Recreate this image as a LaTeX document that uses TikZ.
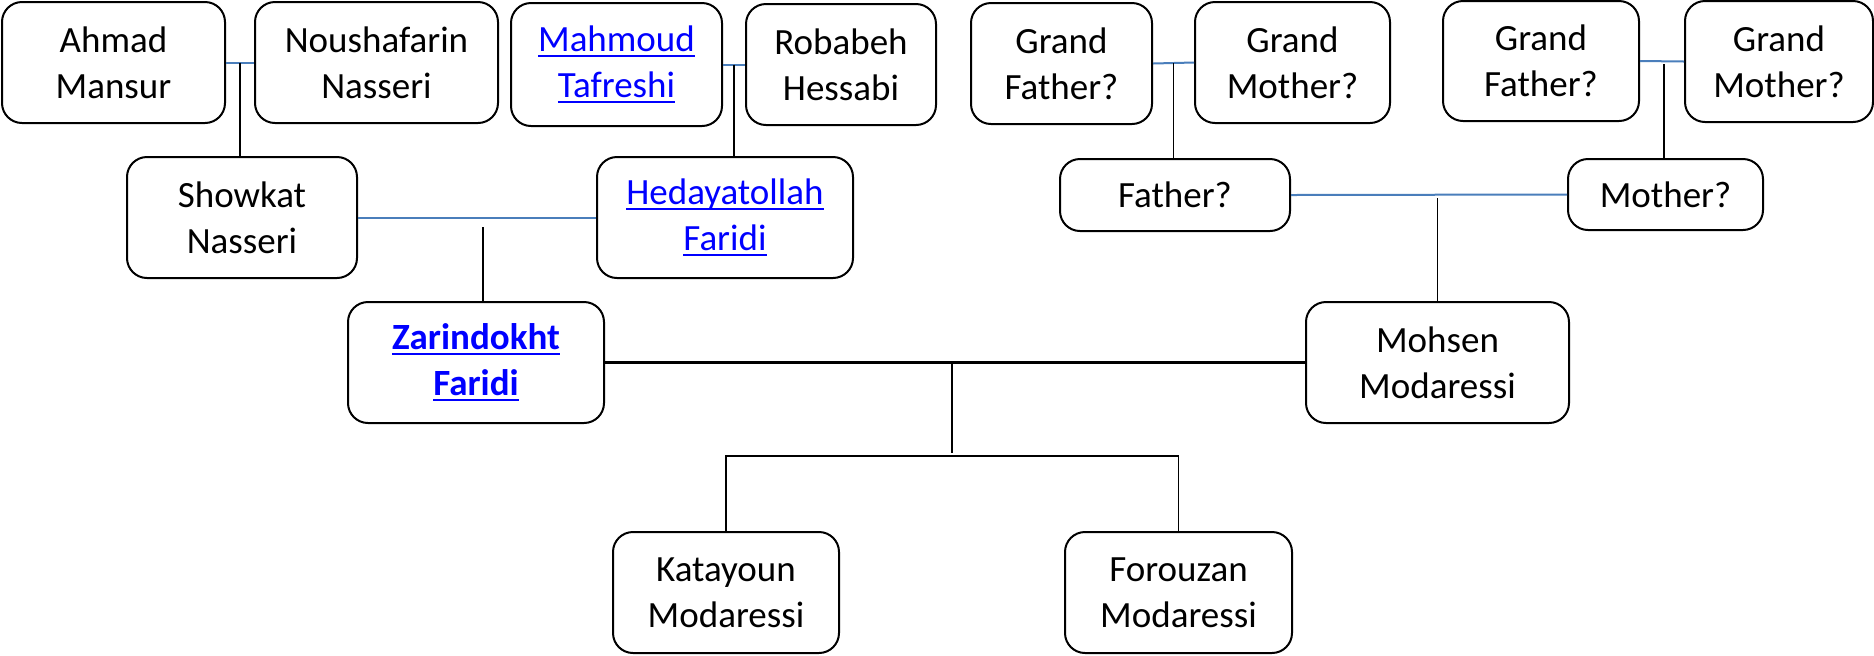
\documentclass[tikz,border=0pt]{standalone}
\usepackage{fontspec}
\setmainfont{Carlito}
\usepackage{xcolor}
\usepackage{tikz}
\usetikzlibrary{positioning}
\usetikzlibrary{calc}
\definecolor{spouseblue}{HTML}{4A7EBB}
\definecolor{linkblue}{HTML}{0000FF}
\newlength{\linkwd}
\newcommand{\weblink}[1]{\settowidth{\linkwd}{#1}\textcolor{linkblue}{\rlap{\rule[-2.5pt]{\linkwd}{1pt}}#1}}
\tikzstyle{person} = [rectangle, rounded corners=10pt, minimum height=60.5pt, inner sep=0pt, align=center, text centered, draw=black, line width=1pt]
\tikzstyle{spouse} = [draw=spouseblue, line width=1pt]
\tikzstyle{child} = [draw=black, line width=0.7pt]
\tikzstyle{couple} = [draw=black, line width=1.2pt]
\tikzstyle{every node}=[font=\fontsize{18.5}{23}\selectfont]

\begin{document}
\begin{tikzpicture}[x=0.5pt, y=-0.5pt]
		\useasboundingbox (0,0) rectangle (1874,655);
		% grandparents
		\node (ahmad) [person, minimum width=111.5pt] at (113.5,62.5) {Ahmad\\Mansur};
		\node (noush) [person, minimum width=121.5pt] at (376.5,62.5) {Noushafarin\\Nasseri};
		\node (mahmoud) [person, minimum width=105.5pt, minimum height=61.5pt] at (616.5,64.5) {\weblink{Mahmoud}\\\weblink{Tafreshi}};
		\node (robabeh) [person, minimum width=95pt] at (841,64.5) {Robabeh\\Hessabi};
		\node (gfa) [person, minimum width=90.5pt] at (1061.5,63.5) {Grand\\Father?};
		\node (gma) [person, minimum width=97.5pt] at (1292.5,62.5) {Grand\\Mother?};
		\node (gfb) [person, minimum width=98pt, minimum height=60pt] at (1541,61) {Grand\\Father?};
		\node (gmb) [person, minimum width=94pt] at (1779,61.5) {Grand\\Mother?};
		% parents
		\node (showkat) [person, minimum width=115pt] at (242,217.5) {Showkat\\Nasseri};
		\node (hedaya) [person, minimum width=128pt] at (725,217.5) {\weblink{Hedayatollah}\\\weblink{Faridi}};
		\node (father) [person, minimum width=115pt, minimum height=36pt] at (1175,195) {Father?};
		\node (mother) [person, minimum width=97.5pt, minimum height=35.5pt] at (1665.5,194.5) {Mother?};
		% couple
		\node (zarin) [person, minimum width=128pt] at (476,362.5) {\textbf{\weblink{Zarindokht}}\\\textbf{\weblink{Faridi}}};
		\node (mohsen) [person, minimum width=131.5pt] at (1437.5,362.5) {Mohsen\\Modaressi};
		% children
		\node (kat) [person, minimum width=113pt] at (726,592.5) {Katayoun\\Modaressi};
		\node (forou) [person, minimum width=113.5pt] at (1178.5,592.5) {Forouzan\\Modaressi};
		\coordinate (zarinup) at (483,227);
		\coordinate (kids) at (952,456);

		\draw [spouse](ahmad.east) -- (noush.west);
		\draw [child]($(ahmad.east)!0.5!(noush.west)$) -- (showkat.north -| {$(ahmad.east)!0.5!(noush.west)$});
		\draw [spouse](mahmoud.east) -- (robabeh.west);
		\draw [child]($(mahmoud.east)!0.5!(robabeh.west)$) -- (hedaya.north -| {$(mahmoud.east)!0.5!(robabeh.west)$});
		\draw [spouse](showkat.east) -- (hedaya.west);
		\draw [child](zarinup) -- (zarinup |- zarin.north);
		\draw [spouse](gfa.east) -- (gma.west);
		\draw [child]($(gfa.east)!0.5!(gma.west)$) -- (father.north -| {$(gfa.east)!0.5!(gma.west)$});
		\draw [spouse](gfb.east) -- (gmb.west);
		\draw [child]($(gfb.east)!0.5!(gmb.west)+(2,3)$) -- (mother.north -| {$(gfb.east)!0.5!(gmb.west)+(2,0)$});
		\draw [spouse](father.east) -- (mother.west);
		\draw [child](mohsen.north) -- ($(mohsen.north |- father.east)+(0,3)$);
		\draw [couple](zarin.east) -- (mohsen.west);
		\draw [child](kids |- zarin.east) -- ($(kids)+(0,-3)$);
		\draw [child](kat.north) |- (kids) -| (forou.north);

	\end{tikzpicture}
\end{document}
